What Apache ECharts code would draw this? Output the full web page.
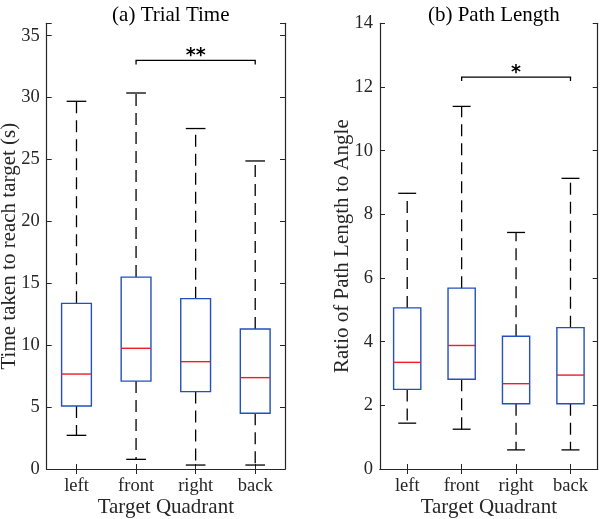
<!DOCTYPE html>
<html>
<head>
<meta charset="utf-8">
<script src="https://cdn.jsdelivr.net/npm/echarts@6/dist/echarts.min.js"></script>
<style>html,body{margin:0;padding:0;background:#fff;}#chart{width:600px;height:519px;}</style>
</head>
<body>
<div id="chart"></div>
<script>
const categories = ['left', 'front', 'right', 'back'];

// (a) Trial Time (s)
const timeMin    = [2.72, 0.78, 0.32, 0.32];
const timeQ1     = [5.09, 7.10, 6.25, 4.50];
const timeMedian = [7.67, 9.75, 8.67, 7.38];
const timeQ3     = [13.38, 15.50, 13.76, 11.31];
const timeMax    = [29.70, 30.37, 27.50, 24.88];
const timeSig    = { from: 1, to: 3, y: 33.0, label: '**' };

// (b) Path Length ratio
const pathMin    = [1.44, 1.25, 0.60, 0.60];
const pathQ1     = [2.50, 2.82, 2.05, 2.05];
const pathMedian = [3.35, 3.88, 2.68, 2.95];
const pathQ3     = [5.06, 5.68, 4.17, 4.44];
const pathMax    = [8.66, 11.39, 7.43, 9.13];
const pathSig    = { from: 1, to: 3, y: 12.31, label: '*' };

const FONT = 'Liberation Serif';
const AXIS_COLOR = '#262626';
const BOX_BLUE = '#2350bd';
const MED_RED = '#ee1c25';

function boxRows(mn, q1, md, q3, mx) {
  return categories.map((c, i) => [i, mn[i], q1[i], md[i], q3[i], mx[i]]);
}

function renderBox(params, api) {
  const i = api.value(0);
  const mn = api.value(1), q1 = api.value(2), md = api.value(3), q3 = api.value(4), mx = api.value(5);
  const unit = api.size([1, 0])[0];
  const bh = unit * 0.25;
  const ch = unit * 0.165;
  const pMin = api.coord([i, mn]);
  const pQ1 = api.coord([i, q1]);
  const pMd = api.coord([i, md]);
  const pQ3 = api.coord([i, q3]);
  const pMax = api.coord([i, mx]);
  const x = pMd[0];
  const dash = { stroke: '#000', lineWidth: 1.3, lineDash: [12, 7] };
  const solid = { stroke: '#000', lineWidth: 1.3 };
  return {
    type: 'group',
    children: [
      { type: 'line', shape: { x1: x, y1: pQ3[1], x2: x, y2: pMax[1] }, style: dash },
      { type: 'line', shape: { x1: x, y1: pQ1[1], x2: x, y2: pMin[1] }, style: dash },
      { type: 'line', shape: { x1: x - ch, y1: pMax[1], x2: x + ch, y2: pMax[1] }, style: solid },
      { type: 'line', shape: { x1: x - ch, y1: pMin[1], x2: x + ch, y2: pMin[1] }, style: solid },
      { type: 'rect', shape: { x: x - bh, y: pQ3[1], width: 2 * bh, height: pQ1[1] - pQ3[1] },
        style: { fill: 'none', stroke: BOX_BLUE, lineWidth: 1.4 } },
      { type: 'line', shape: { x1: x - bh, y1: pMd[1], x2: x + bh, y2: pMd[1] },
        style: { stroke: MED_RED, lineWidth: 1.4 } }
    ]
  };
}

function renderSig(params, api) {
  const a = api.value(0), b = api.value(1), y = api.value(2);
  const p1 = api.coord([a, y]);
  const p2 = api.coord([b, y]);
  return {
    type: 'group',
    children: [
      { type: 'polyline', shape: { points: [[p1[0], p1[1] + 4], [p1[0], p1[1]], [p2[0], p2[1]], [p2[0], p2[1] + 4]] },
        style: { stroke: '#000', lineWidth: 1.3, fill: 'none' } },
      { type: 'text', x: (p1[0] + p2[0]) / 2, y: p1[1] - 4,
        style: { text: api.value(3) === 1 ? '**' : '*', fontFamily: 'DejaVu Sans', fontSize: 19, fontWeight: 'bold',
                 fill: '#000', align: 'center', verticalAlign: 'middle' } }
    ]
  };
}

function sigRow(s) { return [[s.from, s.to, s.y, s.label.length === 2 ? 1 : 0]]; }

const grids = [
  { left: 46.7, right: 315, top: 23.3, bottom: 50, outerBoundsMode: 'none', containLabel: false },
  { left: 380, right: 2.3, top: 23.3, bottom: 50, outerBoundsMode: 'none', containLabel: false }
];

const labelStyle = { fontFamily: FONT, fontSize: 18.5, color: AXIS_COLOR };
const nameStyle = { fontFamily: FONT, fontSize: 21, color: AXIS_COLOR };
const axisLine = { show: true, lineStyle: { color: AXIS_COLOR, width: 1.2 } };

function xAxes(gi) {
  return [
    { type: 'category', gridIndex: gi, data: categories, position: 'bottom',
      axisLine: axisLine, axisTick: { show: true, inside: true, alignWithLabel: true, length: 5, lineStyle: { color: AXIS_COLOR } },
      axisLabel: Object.assign({ margin: 8 }, labelStyle),
      name: 'Target Quadrant', nameLocation: 'middle', nameGap: 28, nameMoveOverlap: false, nameTextStyle: nameStyle,
      splitLine: { show: false } },
    { type: 'category', gridIndex: gi, data: categories, position: 'top',
      axisLine: axisLine, axisTick: { show: true, inside: true, alignWithLabel: true, length: 5, lineStyle: { color: AXIS_COLOR } },
      axisLabel: { show: false }, splitLine: { show: false } }
  ];
}

function yAxes(gi, max, interval, name, nameGap) {
  const fmt = v => (Math.abs(v / interval - Math.round(v / interval)) < 1e-9 && v <= max) ? String(v) : '';
  return [
    { type: 'value', gridIndex: gi, min: 0, max: max, interval: interval, position: 'left',
      axisLine: axisLine, axisTick: { show: true, inside: true, length: 5, lineStyle: { color: AXIS_COLOR } },
      axisLabel: Object.assign({ margin: 7, formatter: fmt, showMaxLabel: true }, labelStyle),
      name: name, nameLocation: 'middle', nameGap: nameGap, nameMoveOverlap: false, nameTextStyle: nameStyle,
      splitLine: { show: false } },
    { type: 'value', gridIndex: gi, min: 0, max: max, interval: interval, position: 'right',
      axisLine: axisLine, axisTick: { show: true, inside: true, length: 5, lineStyle: { color: AXIS_COLOR } },
      axisLabel: { show: false }, splitLine: { show: false } }
  ];
}

const chart = echarts.init(document.getElementById('chart'), null, { renderer: 'canvas' });
chart.setOption({
  animation: false,
  backgroundColor: '#fff',
  title: [
    { text: '(a) Trial Time', left: 165.8, textAlign: 'center', top: 0,
      textStyle: { fontFamily: FONT, fontSize: 21, fontWeight: 'normal', color: '#000' } },
    { text: '(b) Path Length', left: 488.8, textAlign: 'center', top: 0,
      textStyle: { fontFamily: FONT, fontSize: 21, fontWeight: 'normal', color: '#000' } }
  ],
  grid: grids,
  xAxis: [...xAxes(0), ...xAxes(1)],
  yAxis: [...yAxes(0, 36, 5, 'Time taken to reach target (s)', 27),
          ...yAxes(1, 14, 2, 'Ratio of Path Length to Angle', 27)],
  series: [
    { type: 'custom', xAxisIndex: 0, yAxisIndex: 0, renderItem: renderBox,
      encode: { x: 0, y: [1, 2, 3, 4, 5] }, data: boxRows(timeMin, timeQ1, timeMedian, timeQ3, timeMax) },
    { type: 'custom', xAxisIndex: 2, yAxisIndex: 2, renderItem: renderBox,
      encode: { x: 0, y: [1, 2, 3, 4, 5] }, data: boxRows(pathMin, pathQ1, pathMedian, pathQ3, pathMax) },
    { type: 'custom', xAxisIndex: 0, yAxisIndex: 0, renderItem: renderSig,
      encode: { x: [0, 1], y: 2 }, data: sigRow(timeSig) },
    { type: 'custom', xAxisIndex: 2, yAxisIndex: 2, renderItem: renderSig,
      encode: { x: [0, 1], y: 2 }, data: sigRow(pathSig) }
  ]
});
</script>
</body>
</html>
